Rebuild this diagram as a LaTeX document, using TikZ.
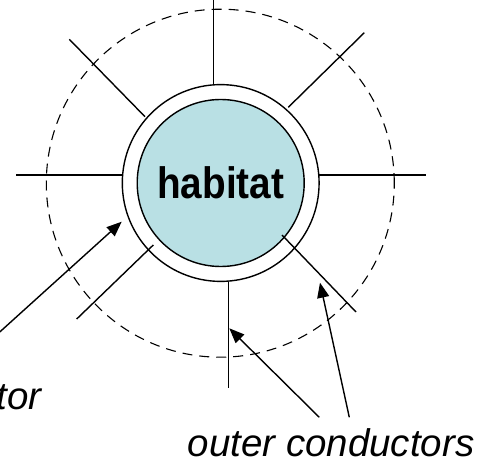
\documentclass[tikz,border=0pt]{standalone}
\usepackage{fontspec}
\setmainfont{Liberation Sans}
\newfontfamily\habfont[FakeStretch=0.88]{Liberation Sans}
\usetikzlibrary{arrows.meta}
\definecolor{habfill}{RGB}{185,224,228}
\begin{document}
\begin{tikzpicture}[x=1pt,y=-1pt,
  wire/.style={line width=1.4pt},
  pointer/.style={line width=1.4pt,-{Triangle[length=15pt,width=12pt]}},
  caption/.style={font=\fontsize{38.5}{40}\selectfont\itshape, inner sep=0pt},
  field/.style={line width=1.1pt, dash pattern=on 10pt off 7pt}]
\useasboundingbox (0,0) rectangle (499,468);
\clip (0,0) rectangle (499,468);

% habitat core and its shell
\node[circle, draw, fill=white, line width=1.4pt, minimum size=196.8pt] (ring) at (220.7,183) {};
\node[circle, draw, fill=habfill, line width=1.4pt, minimum size=167pt,
      font=\habfont\bfseries\fontsize{44}{46}\selectfont] (hab) at (220.7,183) {habitat};

% dashed boundary
\draw[field] (220.3,183.2) circle[radius=174pt];

% conductor spokes
\coordinate (n1) at (213.3,-5);    \coordinate (n2) at (213.3,84.6);
\coordinate (ne1) at (364.3,32.7); \coordinate (ne2) at (288.3,107.3);
\coordinate (nw1) at (69.3,39.3);  \coordinate (nw2) at (145,116.7);
\coordinate (w1) at (16,175);      \coordinate (w2) at (122.3,175);
\coordinate (e1) at (319,175);     \coordinate (e2) at (425.7,175);
\coordinate (s1) at (228.3,281.7); \coordinate (s2) at (228.3,387.7);
\coordinate (sw1) at (153.3,245);  \coordinate (sw2) at (76.7,319);
\coordinate (se1) at (282,235);    \coordinate (se2) at (356,312);
\foreach \a/\b in {n1/n2,ne1/ne2,nw1/nw2,w1/w2,e1/e2,s1/s2,sw1/sw2,se1/se2}
  \draw[wire] (\a) -- (\b);

% captions
\node[caption, anchor=base east] (inner) at (42,409.3) {inner conductor};
\node[caption, anchor=base west] (outer) at (187.5,456.7) {outer conductors};

% pointers
\coordinate (t1) at (-10,340.8);  \coordinate (h1) at (121.7,221.7);
\coordinate (t2) at (319.3,417.3); \coordinate (h2) at (229.3,328.3);
\coordinate (t3) at (349.3,417.3); \coordinate (h3) at (320,282.7);
\draw[pointer] (t1) -- (h1);
\draw[pointer] (t2) -- (h2);
\draw[pointer] (t3) -- (h3);
\end{tikzpicture}
\end{document}
